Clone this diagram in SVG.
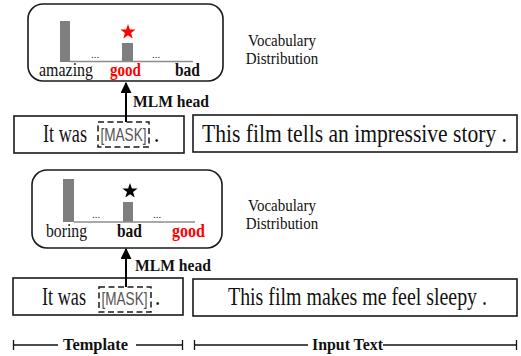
<svg xmlns="http://www.w3.org/2000/svg" width="521" height="356" viewBox="0 0 521 356">
<style>
  .bg{fill:#fff}
  .rbox{fill:#fff;stroke:#1a1a1a;stroke-width:1.6}
  .box{fill:#fff;stroke:#1a1a1a;stroke-width:1.6}
  .mask{fill:none;stroke:#1a1a1a;stroke-width:1.5;stroke-dasharray:6 3.5}
  .bar{fill:#7f7f7f}
  .axis{stroke:#8c8c8c;stroke-width:1.6}
  .serif{font-family:"Liberation Serif","Times New Roman",serif;fill:#111}
  .big{font-size:21px}
  .lbl{font-size:15.5px}
  .med{font-size:15px}
  .b{font-weight:bold}
  .red{fill:#ff0000}
  .dots{font-family:"Liberation Serif",serif;font-size:11px;fill:#333}
  .mtxt{font-family:"Liberation Sans",Arial,sans-serif;font-size:14px;fill:#555}
  .conn{stroke:#000;stroke-width:2;fill:none}
  .dim{stroke:#111;stroke-width:1.3}
</style>
<defs>
  <marker id="ah" viewBox="0 0 10 10" refX="9" refY="5" markerWidth="5.5" markerHeight="5.5" orient="auto" markerUnits="strokeWidth">
    <path d="M0,0 L10,5 L0,10 z" fill="#000"/>
  </marker>
  <path id="star" d="M0,-8 L1.88,-2.59 L7.61,-2.47 L3.04,0.99 L4.7,6.47 L0,3.2 L-4.7,6.47 L-3.04,0.99 L-7.61,-2.47 L-1.88,-2.59 Z"/>
</defs>
<rect class="bg" x="0" y="0" width="521" height="356"/>

<!-- ===== Top example ===== -->
<g id="dist1">
  <rect class="rbox" x="28" y="4" width="195" height="77" rx="15"/>
  <rect class="bar" x="60" y="21" width="10" height="41"/>
  <rect class="bar" x="122" y="43" width="11" height="19"/>
  <line class="axis" x1="70" y1="61.5" x2="193" y2="61.5"/>
  <text class="dots" x="91" y="58">...</text>
  <text class="dots" x="152" y="58">...</text>
  <use href="#star" x="128" y="32" fill="#ff0000"/>
  <text class="serif lbl" transform="translate(39,76) scale(1,1.2)" textLength="54" lengthAdjust="spacingAndGlyphs">amazing</text>
  <text class="serif lbl b red" transform="translate(110,76) scale(1,1.2)" textLength="31" lengthAdjust="spacingAndGlyphs">good</text>
  <text class="serif lbl b" transform="translate(175,76) scale(1,1.2)" textLength="25" lengthAdjust="spacingAndGlyphs">bad</text>
</g>
<g id="vocab1">
  <text class="serif med" transform="translate(282,46) scale(1,1.15)" text-anchor="middle">Vocabulary</text>
  <text class="serif med" transform="translate(282,64) scale(1,1.15)" text-anchor="middle">Distribution</text>
</g>
<g id="template1">
  <rect class="box" x="14" y="116" width="170" height="37"/>
  <text class="serif big" transform="translate(43,142) scale(1,1.2)" textLength="44" lengthAdjust="spacingAndGlyphs">It was</text>
  <rect class="mask" x="98" y="122" width="51" height="25"/>
  <text class="mtxt" transform="translate(100.5,141) scale(1,1.3)" textLength="46" lengthAdjust="spacingAndGlyphs">[MASK]</text>
  <text class="serif big" transform="translate(154,142) scale(1,1.2)">.</text>
</g>
<g id="input1">
  <rect class="box" x="193" y="115" width="324" height="37"/>
  <text class="serif big" transform="translate(202,142) scale(1,1.2)" textLength="305" lengthAdjust="spacingAndGlyphs">This film tells an impressive story .</text>
</g>

<!-- ===== Bottom example ===== -->
<g id="dist2">
  <rect class="rbox" x="32" y="170" width="190" height="78" rx="15"/>
  <rect class="bar" x="63" y="179" width="11" height="43"/>
  <rect class="bar" x="123" y="202" width="10" height="20"/>
  <line class="axis" x1="74" y1="222" x2="195" y2="222"/>
  <text class="dots" x="92" y="218">...</text>
  <text class="dots" x="153" y="218">...</text>
  <use href="#star" x="130" y="191" fill="#000"/>
  <text class="serif lbl" transform="translate(46,237) scale(1,1.2)" textLength="41" lengthAdjust="spacingAndGlyphs">boring</text>
  <text class="serif lbl b" transform="translate(117,237) scale(1,1.2)" textLength="25" lengthAdjust="spacingAndGlyphs">bad</text>
  <text class="serif lbl b red" transform="translate(172,237) scale(1,1.2)" textLength="33" lengthAdjust="spacingAndGlyphs">good</text>
</g>
<g id="vocab2">
  <text class="serif med" transform="translate(282,211) scale(1,1.15)" text-anchor="middle">Vocabulary</text>
  <text class="serif med" transform="translate(282,229) scale(1,1.15)" text-anchor="middle">Distribution</text>
</g>
<g id="template2">
  <rect class="box" x="13" y="278" width="170" height="37"/>
  <text class="serif big" transform="translate(42,305) scale(1,1.2)" textLength="44" lengthAdjust="spacingAndGlyphs">It was</text>
  <rect class="mask" x="99" y="287" width="52" height="25"/>
  <text class="mtxt" transform="translate(101.5,305) scale(1,1.3)" textLength="46" lengthAdjust="spacingAndGlyphs">[MASK]</text>
  <text class="serif big" transform="translate(155,305) scale(1,1.2)">.</text>
</g>
<g id="input2">
  <rect class="box" x="193" y="279" width="324" height="37"/>
  <text class="serif big" transform="translate(228,305) scale(1,1.2)" textLength="259" lengthAdjust="spacingAndGlyphs">This film makes me feel sleepy .</text>
</g>

<!-- ===== Connectors ===== -->
<g id="connectors">
  <line class="conn" x1="126" y1="122" x2="126" y2="83" marker-end="url(#ah)"/>
  <line class="conn" x1="126" y1="287" x2="126" y2="249" marker-end="url(#ah)"/>
  <text class="serif b med" transform="translate(133,107) scale(1,1.15)" textLength="76" lengthAdjust="spacingAndGlyphs">MLM head</text>
  <text class="serif b med" transform="translate(135,271) scale(1,1.15)" textLength="76" lengthAdjust="spacingAndGlyphs">MLM head</text>
</g>

<!-- ===== Legend ===== -->
<g id="legend">
  <line class="dim" x1="13" y1="345" x2="58" y2="345"/>
  <line class="dim" x1="13.5" y1="340" x2="13.5" y2="350"/>
  <text class="serif b med" transform="translate(63,350) scale(1,1.15)" textLength="65" lengthAdjust="spacingAndGlyphs">Template</text>
  <line class="dim" x1="136" y1="345" x2="183" y2="345"/>
  <line class="dim" x1="182.5" y1="340" x2="182.5" y2="350"/>
  <line class="dim" x1="194" y1="345" x2="308" y2="345"/>
  <line class="dim" x1="194.5" y1="340" x2="194.5" y2="350"/>
  <text class="serif b med" transform="translate(312,350) scale(1,1.15)" textLength="71" lengthAdjust="spacingAndGlyphs">Input Text</text>
  <line class="dim" x1="383" y1="345" x2="517" y2="345"/>
  <line class="dim" x1="516.5" y1="340" x2="516.5" y2="350"/>
</g>
</svg>
